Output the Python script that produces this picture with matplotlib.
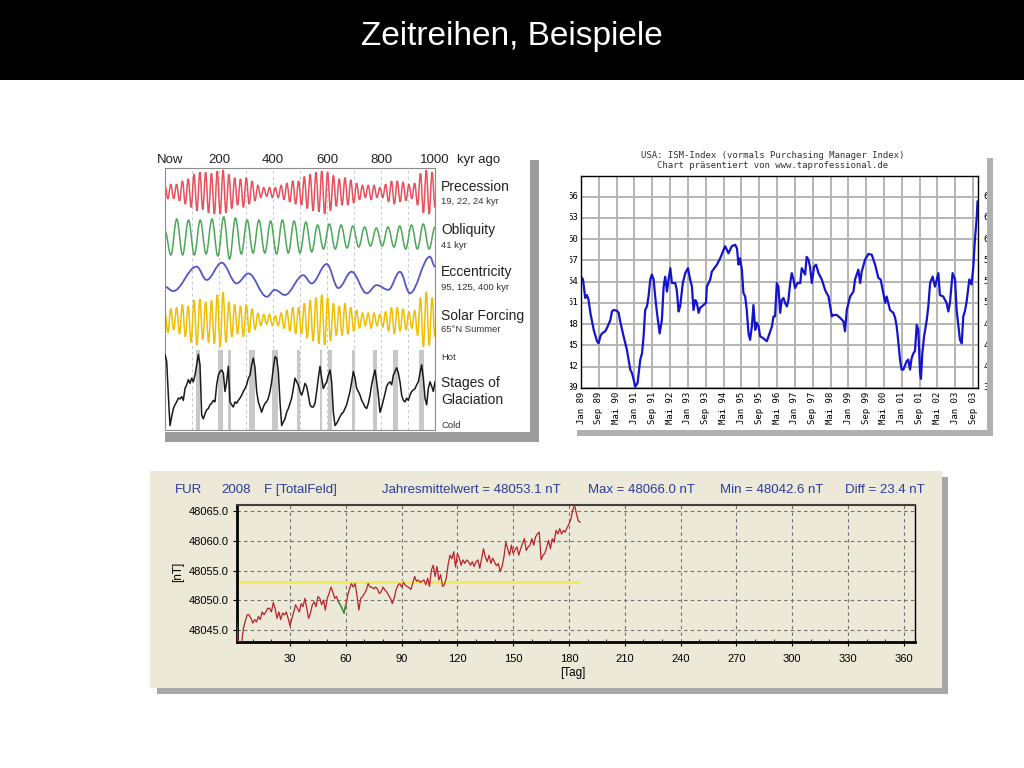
import matplotlib
matplotlib.use("Agg")
import matplotlib.pyplot as plt
import matplotlib.transforms as mtransforms
import numpy as np
from matplotlib.patches import PathPatch, Rectangle
from matplotlib.path import Path

plt.rcParams["font.family"] = ["Liberation Sans", "DejaVu Sans"]

W, H = 1024, 768

# --- Milankovitch panel (kyr ago, 0..1000) ---
# extrema of the oscillating curves, evenly spread over 0..1000 kyr
prec_vals = [0.3, -0.3, 0.35, -0.3, 0.35, -0.4, 0.5, -0.55, 0.6, -0.7,
             0.8, -0.85, 0.9, -0.8, 0.9, -0.95, 0.85, -1.0, 0.95, -1.0,
             1.0, -0.95, 0.8, -0.75, 0.65, -0.6, 0.6, -0.7, 0.65, -0.55,
             0.5, -0.4, 0.3, -0.25, 0.2, -0.2, 0.2, -0.25, 0.2, -0.25,
             0.3, -0.35, 0.4, -0.45, 0.5, -0.55, 0.5, -0.6, 0.7, -0.75,
             0.8, -0.85, 0.9, -0.9, 0.95, -1.0, 0.9, -0.85, 0.75, -0.65,
             0.6, -0.6, 0.65, -0.6, 0.55, -0.5, 0.4, -0.35, 0.3, -0.25,
             0.3, -0.35, 0.3, -0.25, 0.2, -0.25, 0.35, -0.45, 0.5, -0.55,
             0.5, -0.45, 0.45, -0.4, 0.35, -0.3, 0.4, -0.6, 0.85, -0.95,
             1.0, -1.0, 0.9, -0.7]
obl_vals = [0.3, -0.9, 0.9, -0.9, 0.85, -0.9, 0.85, -0.85, 0.9, -0.95,
            1.0, -1.1, 0.95, -0.85, 0.85, -0.8, 0.85, -0.8, 0.8, -0.85,
            0.85, -0.8, 0.8, -0.8, 0.75, -0.75, 0.6, -0.6, 0.65, -0.6,
            0.6, -0.55, 0.55, -0.5, 0.5, -0.45, 0.45, -0.45, 0.5, -0.5,
            0.55, -0.6, 0.6, -0.6, 0.65, -0.6, 0.5]
solar_vals = [0.3, -0.45, 0.4, -0.35, 0.45, -0.5, 0.55, -0.6, 0.5, -0.8,
              0.7, -0.9, 0.75, -0.7, 0.65, -0.8, 0.7, -0.85, 0.9, -0.95,
              1.0, -0.8, 0.65, -0.6, 0.55, -0.5, 0.5, -0.6, 0.55, -0.45,
              0.4, -0.35, 0.25, -0.2, 0.2, -0.15, 0.2, -0.2, 0.15, -0.2,
              0.25, -0.3, 0.35, -0.4, 0.45, -0.5, 0.45, -0.5, 0.6, -0.65,
              0.7, -0.75, 0.8, -0.85, 0.9, -0.9, 0.8, -0.75, 0.6, -0.55,
              0.5, -0.55, 0.6, -0.5, 0.45, -0.4, 0.35, -0.3, 0.25, -0.2,
              0.25, -0.3, 0.25, -0.2, 0.2, -0.25, 0.3, -0.4, 0.45, -0.5,
              0.45, -0.4, 0.4, -0.35, 0.3, -0.3, 0.35, -0.55, 0.8, -0.95,
              1.0, -0.9, 0.8, -0.6]
ecc_kyr = [0, 30, 117, 154, 210, 265, 309, 377, 407, 444, 512, 543, 599,
           642, 691, 747, 784, 827, 870, 907, 981, 1000]
ecc_vals = [0.26, 0.16, 0.73, 0.42, 0.82, 0.34, 0.57, 0.03, 0.19, 0.07, 0.53,
            0.34, 0.79, 0.23, 0.61, 0.11, 0.30, 0.19, 0.61, 0.11, 0.96, 0.73]
glac_vals = [0.98, 0.89, 0.43, 0.02, 0.14, 0.25, 0.30, 0.34, 0.39, 0.38,
             0.41, 0.36, 0.52, 0.57, 0.64, 0.59, 0.66, 0.61, 0.70, 0.84,
             0.98, 0.84, 0.16, 0.11, 0.18, 0.23, 0.25, 0.30, 0.32, 0.36,
             0.34, 0.57, 0.70, 0.75, 0.77, 0.73, 0.48, 0.61, 0.82, 0.34,
             0.30, 0.27, 0.34, 0.32, 0.36, 0.39, 0.43, 0.48, 0.52, 0.57,
             0.66, 0.70, 0.84, 0.93, 0.80, 0.48, 0.34, 0.27, 0.20, 0.27,
             0.32, 0.34, 0.39, 0.48, 0.61, 0.80, 0.95, 0.93, 0.75, 0.34,
             0.02, 0.07, 0.11, 0.20, 0.25, 0.32, 0.39, 0.52, 0.66, 0.61,
             0.57, 0.48, 0.43, 0.50, 0.59, 0.55, 0.43, 0.30, 0.27, 0.27,
             0.32, 0.48, 0.66, 0.82, 0.66, 0.52, 0.57, 0.61, 0.70, 0.77,
             0.61, 0.20, 0.02, 0.05, 0.09, 0.14, 0.18, 0.20, 0.25, 0.30,
             0.39, 0.48, 0.61, 0.75, 0.66, 0.52, 0.48, 0.43, 0.36, 0.32,
             0.27, 0.25, 0.32, 0.43, 0.57, 0.68, 0.77, 0.61, 0.43, 0.20,
             0.27, 0.36, 0.45, 0.55, 0.59, 0.61, 0.57, 0.70, 0.75, 0.80,
             0.73, 0.61, 0.43, 0.36, 0.34, 0.39, 0.36, 0.43, 0.48, 0.50,
             0.52, 0.57, 0.61, 0.73, 0.84, 0.66, 0.39, 0.30, 0.52, 0.61,
             0.55, 0.48, 0.61]
glac_bands = [(114, 130), (197, 216), (234, 244), (311, 333), (395, 417),
              (488, 500), (574, 583), (605, 617), (691, 704), (772, 787),
              (843, 864), (942, 959)]
kyr_ticks = [200, 400, 600, 800, 1000]

# --- ISM index (months since Jan 1989) ---
ism_month = [0, 0.9, 1.9, 2.7, 3.4, 4.2, 5.7, 7.2, 7.9, 8.7, 9.4, 10.9, 11.7,
             13.2, 13.9, 14.6, 16.1, 16.9, 17.6, 19.1, 20.6, 22.1, 22.9, 23.6,
             24.4, 25.4, 26.6, 27.4, 28.1, 28.8, 29.6, 30.3, 31.1, 31.8, 32.6,
             33.3, 34.1, 35.3, 36.3, 37.1, 37.8, 38.6, 39.3, 40.1, 40.8, 42.3,
             43.0, 43.8, 44.5, 45.7, 46.8, 48.0, 49.0, 49.8, 50.5, 51.3, 52.0,
             52.8, 53.5, 55.0, 56.1, 56.5, 58.0, 58.7, 61.0, 62.5, 64.0, 64.7,
             66.2, 67.7, 69.2, 70.0, 70.7, 71.4, 72.2, 72.9, 73.7, 74.4, 75.2,
             75.9, 76.7, 77.4, 78.2, 78.9, 79.7, 80.4, 81.9, 83.4, 84.2, 85.7,
             86.4, 87.1, 87.9, 88.6, 89.4, 90.1, 90.9, 91.6, 92.4, 93.1, 93.9,
             94.6, 95.4, 96.1, 97.2, 98.4, 99.1, 100.6, 101.3, 102.1, 102.8,
             103.6, 104.6, 105.5, 106.6, 108.1, 109.6, 111.1, 112.6, 113.3,
             114.8, 116.3, 117.8, 118.5, 119.3, 120.8, 122.3, 123.0, 124.5,
             125.3, 126.0, 127.5, 129.0, 130.5, 132.0, 133.5, 134.5, 135.7,
             136.5, 137.2, 138.7, 140.2, 141.0, 141.7, 142.5, 143.2, 143.9,
             144.7, 146.2, 146.9, 147.7, 148.4, 149.2, 149.9, 150.7, 151.4,
             152.2, 152.6, 153.2, 154.0, 155.2, 155.9, 156.7, 157.8, 158.9,
             160.4, 161.1, 162.6, 164.1, 164.9, 165.6, 166.8, 167.9, 168.6,
             169.4, 170.1, 170.9, 171.6, 172.3, 173.1, 174.3, 175.3, 176.1,
             176.8, 177.6, 178.0]
ism_vals = [54.7, 54.3, 51.7, 52.1, 51.4, 49.6, 47.2, 45.6, 45.3, 46.3, 46.7,
            47.0, 47.5, 48.6, 49.8, 50.0, 49.9, 49.6, 48.4, 46.3, 44.4, 41.6,
            41.1, 40.2, 39.2, 39.7, 43.0, 43.9, 46.3, 50.0, 50.5, 51.9, 54.3,
            55.0, 54.3, 51.9, 49.6, 46.7, 48.6, 53.3, 54.7, 52.6, 54.3, 55.9,
            53.8, 53.8, 52.8, 49.8, 50.5, 53.8, 55.2, 55.9, 54.3, 53.3, 50.0,
            51.4, 51.0, 49.6, 50.3, 50.7, 51.0, 53.3, 54.3, 55.4, 56.4, 57.3,
            58.5, 59.0, 58.0, 59.0, 59.2, 58.7, 56.4, 57.3, 55.7, 52.4, 51.9,
            50.0, 46.7, 45.8, 47.7, 50.7, 47.2, 48.2, 47.7, 46.3, 46.0, 45.6,
            46.3, 47.7, 49.1, 49.1, 53.8, 53.3, 49.6, 51.4, 51.7, 51.0, 50.5,
            51.4, 53.8, 55.2, 54.3, 53.1, 53.8, 53.8, 55.9, 55.0, 57.5, 57.1,
            56.1, 53.8, 56.1, 56.4, 55.2, 54.3, 52.8, 51.9, 49.1, 49.3, 49.3,
            48.9, 48.4, 47.0, 50.0, 51.9, 52.6, 54.3, 55.7, 53.8, 55.4, 57.1,
            57.9, 57.8, 56.4, 54.5, 54.3, 52.4, 51.0, 51.9, 50.0, 49.6, 48.9,
            47.7, 45.3, 43.0, 41.6, 41.6, 42.8, 43.0, 41.6, 43.2, 43.9, 44.2,
            47.9, 47.2, 41.1, 40.3, 43.9, 46.3, 48.6, 50.5, 53.8, 54.7, 53.3,
            55.2, 52.1, 51.9, 51.0, 49.8, 51.0, 55.2, 54.3, 50.0, 47.7, 45.8,
            45.3, 49.1, 49.8, 51.2, 54.3, 53.6, 56.1, 59.9, 62.9, 65.3]
ism_ticks = ["Jan 89", "Sep 89", "Mai 90", "Jan 91", "Sep 91", "Mai 92",
             "Jan 93", "Sep 93", "Mai 94", "Jan 95", "Sep 95", "Mai 96",
             "Jan 97", "Sep 97", "Mai 98", "Jan 99", "Sep 99", "Mai 00",
             "Jan 01", "Sep 01", "Mai 02", "Jan 03", "Sep 03"]
ism_levels = [39, 42, 45, 48, 51, 54, 57, 60, 63, 66]

# --- FUR 2008, total field, daily values in nT above 48000 ---
fur_delta = [47.8, 43.0, 42.6, 42.8, 45.3, 46.5, 47.5, 47.5, 46.9, 46.1,
             46.7, 46.3, 47.2, 46.7, 48.0, 47.5, 48.0, 48.6, 48.6, 48.0,
             49.6, 48.6, 46.9, 48.0, 46.7, 47.8, 47.5, 48.0, 46.9, 45.6,
             46.9, 48.0, 49.2, 48.6, 48.0, 49.4, 48.9, 50.3, 48.6, 46.9,
             47.8, 49.2, 49.7, 48.9, 50.6, 50.3, 49.2, 50.0, 48.3, 50.3,
             51.1, 52.2, 51.4, 50.3, 50.6, 49.7, 49.2, 48.6, 47.8, 49.2,
             50.8, 51.9, 52.8, 52.2, 52.8, 50.8, 48.3, 50.3, 50.6, 51.1,
             51.7, 52.8, 52.2, 52.2, 51.9, 52.2, 51.9, 51.1, 51.4, 52.2,
             51.7, 51.4, 50.8, 50.3, 49.4, 50.3, 51.7, 52.5, 52.8, 52.2,
             53.0, 52.5, 52.3, 52.1, 51.8, 52.9, 54.0, 53.2, 53.4, 53.0,
             53.2, 53.4, 52.6, 53.7, 52.3, 55.1, 55.9, 54.0, 55.7, 53.4,
             54.3, 52.3, 52.6, 53.7, 56.0, 57.6, 57.0, 58.2, 55.6, 57.9,
             57.1, 55.9, 56.8, 56.2, 56.8, 56.5, 55.9, 56.5, 55.7, 56.5,
             56.8, 55.4, 57.0, 58.7, 57.3, 56.5, 57.6, 56.2, 57.1, 56.4,
             55.8, 56.2, 54.8, 55.7, 57.3, 59.8, 58.7, 57.6, 59.3, 57.9,
             58.5, 59.0, 57.6, 58.7, 59.6, 60.4, 58.4, 59.0, 59.3, 60.4,
             59.3, 60.7, 61.2, 61.5, 56.8, 57.6, 57.9, 59.0, 60.1, 58.7,
             60.4, 59.8, 61.8, 61.2, 62.1, 61.2, 61.8, 61.5, 62.3, 62.9,
             63.7, 65.3, 66.0, 64.6, 63.4, 63.2]
fur_mean = 48053.1
fur_green_days = (56, 60)


fig = plt.figure(figsize=(W / 100, H / 100), dpi=100)
fig.patch.set_facecolor("white")


def rect(x0, y0, x1, y1):
    return [x0 / W, 1 - y1 / H, (x1 - x0) / W, (y1 - y0) / H]


def fbox(x0, y0, x1, y1, color, z=-1):
    fig.patches.append(Rectangle((x0 / W, 1 - y1 / H), (x1 - x0) / W, (y1 - y0) / H,
                                 transform=fig.transFigure, facecolor=color,
                                 edgecolor="none", zorder=z))


def ftext(x, y, s, **kw):
    return fig.text(x / W, 1 - y / H, s, **kw)


def panel(x0, y0, x1, y1, color):
    ax = fig.add_axes(rect(x0, y0, x1, y1), zorder=1)
    ax.set_facecolor(color)
    ax.set_xticks([])
    ax.set_yticks([])
    for s in ax.spines.values():
        s.set_visible(False)
    return ax


def smooth(ax, x, y, color, lw=1.0):
    # cubic segments with flat tangents at every extremum
    verts = [(x[0], y[0])]
    for x0, y0, x1, y1 in zip(x[:-1], y[:-1], x[1:], y[1:]):
        d = 0.36 * (x1 - x0)
        verts += [(x0 + d, y0), (x1 - d, y1), (x1, y1)]
    codes = [Path.MOVETO] + [Path.CURVE4] * (len(verts) - 1)
    ax.add_patch(PathPatch(Path(verts, codes), fill=False, edgecolor=color,
                           lw=lw, zorder=2))


# title bar
fbox(0, 0, W, 80, "black")
ftext(512, 36, "Zeitreihen, Beispiele", color="white", fontsize=24,
      ha="center", va="center")

# ---------------- Milankovitch panel ----------------
fbox(165, 160, 539, 442, "#9c9c9c")
panel(153, 148, 530, 432, "white")
ax1 = fig.add_axes(rect(165, 168, 435, 430), zorder=2)
ax1.set_xlim(0, 1000)
ax1.set_ylim(0, 262)
ax1.set_xticks([])
ax1.set_yticks([])
for s in ax1.spines.values():
    s.set_color("#8c8c8c")
    s.set_linewidth(0.8)
for k in range(100, 1000, 100):
    ax1.axvline(k, color="#c4c7d8", lw=0.7, ls=(0, (3, 3)), zorder=0.5)
for a, b in glac_bands:
    ax1.axvspan(a, b, ymin=0, ymax=80 / 262, color="#c8c8c8", lw=0, zorder=0.6)

smooth(ax1, np.linspace(0, 1000, len(prec_vals)), 238 + 22 * np.array(prec_vals), "#e8505a", lw=1.1)
smooth(ax1, np.linspace(0, 1000, len(obl_vals)), 193 + 20 * np.array(obl_vals), "#4aa857", lw=1.1)
smooth(ax1, np.array(ecc_kyr, float), 132 + 43 * np.array(ecc_vals), "#5555cc", lw=1.3)
smooth(ax1, np.linspace(0, 1000, len(solar_vals)), 110 + 28 * np.array(solar_vals), "#f0c000", lw=1.1)
ax1.plot(np.linspace(0, 1000, len(glac_vals)), 3 + 74 * np.array(glac_vals),
         color="#1a1a1a", lw=1.1, zorder=3)

top = mtransforms.blended_transform_factory(ax1.transData, ax1.transAxes)
for k in kyr_ticks:
    ax1.text(k, 1.031, str(k), transform=top, ha="center", va="center",
             fontsize=9.5, color="#222222")
ftext(157, 160, "Now", ha="left", va="center", fontsize=9.5, color="#222222")
ftext(457, 160, "kyr ago", ha="left", va="center", fontsize=9.5, color="#222222")

big = dict(ha="left", va="center", fontsize=10, color="#222222")
small = dict(ha="left", va="center", fontsize=6.8, color="#333333")
ftext(441, 187, "Precession", **big)
ftext(441, 202, "19, 22, 24 kyr", **small)
ftext(441, 230, "Obliquity", **big)
ftext(441, 245, "41 kyr", **small)
ftext(441, 272, "Eccentricity", **big)
ftext(441, 288, "95, 125, 400 kyr", **small)
ftext(441, 316, "Solar Forcing", **big)
ftext(441, 330, "65°N Summer", **small)
ftext(441, 357, "Hot", **small)
ftext(441, 383, "Stages of", **big)
ftext(441, 400, "Glaciation", **big)
ftext(441, 425, "Cold", **small)

# ---------------- ISM panel ----------------
mono = "DejaVu Sans Mono"
fbox(577, 158, 993, 436, "#b0b0b0")
bg2 = panel(570, 145, 987, 430, "white")
ax2 = fig.add_axes(rect(581, 176, 978, 388), zorder=2)
ax2.set_xlim(0, 178.2)
ax2.set_ylim(39, 68.9)
ax2.set_xticks(np.arange(len(ism_ticks)) * 8)
ax2.set_xticklabels(ism_ticks, rotation=90, fontfamily=mono, fontsize=6.5)
ax2.set_yticks(ism_levels)
ax2.set_yticklabels([])
ax2.tick_params(length=0, pad=3)
ax2.grid(True, color="#b4b4b4", lw=1.4)
ax2.set_axisbelow(True)
for s in ax2.spines.values():
    s.set_color("black")
    s.set_linewidth(1.0)
ax2.plot(ism_month, ism_vals, color="#1414cc", lw=1.6)

ylab = mtransforms.blended_transform_factory(fig.transFigure, ax2.transData)
for v in ism_levels:
    bg2.text(578 / W, v, str(v), transform=ylab, ha="right", va="center",
             fontfamily=mono, fontsize=6.5, clip_on=True)
    bg2.text(983 / W, v, str(v), transform=ylab, ha="left", va="center",
             fontfamily=mono, fontsize=6.5, clip_on=True)
ftext(773, 155, "USA: ISM-Index (vormals Purchasing Manager Index)",
      ha="center", va="center", fontfamily=mono, fontsize=6.5, color="#333333")
ftext(773, 166, "Chart präsentiert von www.taprofessional.de",
      ha="center", va="center", fontfamily=mono, fontsize=6.5, color="#333333")

# ---------------- FUR panel ----------------
beige = "#ece9d8"
fbox(157, 477, 948, 694, "#a8a8a8")
panel(150, 471, 942, 688, beige)
ax3 = fig.add_axes(rect(237, 505, 915, 642), zorder=2)
ax3.set_facecolor(beige)
days = np.arange(1, len(fur_delta) + 1)
fur = 48000 + np.array(fur_delta)
ax3.hlines(fur_mean, days[1], days[-1], color="#f2ec55", lw=2.2, zorder=2)
ax3.plot(days, fur, color="#b8242a", lw=0.9, zorder=3)
g = (days >= fur_green_days[0]) & (days <= fur_green_days[1])
ax3.plot(days[g], fur[g], color="#2f9a3a", lw=1.0, zorder=4)
ax3.set_xlim(1.5, 366)
ax3.set_ylim(48042.9, 48066.1)
ax3.set_xticks(range(30, 361, 30))
ax3.set_xticks(range(10, 366, 10), minor=True)
ax3.set_yticks(range(48045, 48066, 5))
ax3.set_yticklabels([f"{v:.1f}" for v in range(48045, 48066, 5)])
ax3.tick_params(labelsize=8, length=3, width=0.8, pad=3)
ax3.tick_params(axis="x", pad=6)
ax3.tick_params(which="minor", length=2, width=0.6, direction="in")
ax3.grid(True, ls=(0, (3, 3)), color="#707070", lw=0.8)
ax3.spines["left"].set_linewidth(2)
ax3.spines["bottom"].set_linewidth(2)
ax3.spines["top"].set_linewidth(1.5)
ax3.spines["top"].set_color("#404040")
ax3.spines["right"].set_linewidth(1)
ftext(178, 572, "[nT]", rotation=90, ha="center", va="center", fontsize=8.5)
ftext(573, 673, "[Tag]", ha="center", va="center", fontsize=8.5)

blue = dict(ha="left", va="center", fontsize=9.5, color="#2a3c9c")
ftext(175, 490, "FUR", **blue)
ftext(221, 490, "2008", **blue)
ftext(264, 490, "F [TotalFeld]", **blue)
ftext(382, 490, f"Jahresmittelwert = {fur_mean:.1f} nT", **blue)
ftext(588, 490, f"Max = {fur.max():.1f} nT", **blue)
ftext(720, 490, f"Min = {fur.min():.1f} nT", **blue)
ftext(845, 490, f"Diff = {fur.max() - fur.min():.1f} nT", **blue)

fig.savefig("out.png", dpi=100)
